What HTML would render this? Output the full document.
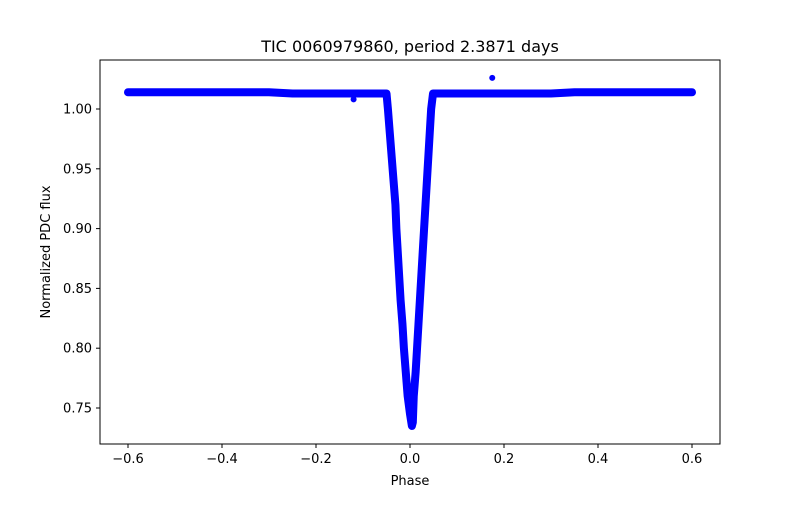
<!DOCTYPE html>
<html><head><meta charset="utf-8"><style>
body{margin:0;background:#fff;}
svg text{font-family:"DejaVu Sans","Liberation Sans",sans-serif;fill:#000;}
</style></head><body>
<svg id="chart" width="800" height="500" xmlns="http://www.w3.org/2000/svg">
<rect width="800" height="500" fill="#fff"/>
<text x="410" y="52" font-size="16" text-anchor="middle">TIC 0060979860, period 2.3871 days</text>
<g id="plot"></g>
<rect x="100" y="60" width="620" height="384" fill="none" stroke="#000" stroke-width="1"/>
<g id="axes"></g>
<text x="410" y="485" font-size="13" text-anchor="middle">Phase</text>
<text x="50" y="252" font-size="13" text-anchor="middle" transform="rotate(-90 50 252)">Normalized PDC flux</text>
</svg>
<script>
const phase = [-0.6,-0.55,-0.5,-0.45,-0.4,-0.35,-0.3,-0.25,-0.2,-0.15,-0.1,-0.05,
 -0.047,-0.043,-0.039,-0.035,-0.031,-0.029,-0.026,-0.023,-0.020,-0.016,-0.013,-0.009,-0.005,0.0,0.004,
 0.006,0.008,0.012,0.015,0.018,0.021,0.024,0.027,0.030,0.033,0.036,0.039,0.042,0.045,0.049,
 0.1,0.15,0.2,0.25,0.3,0.35,0.4,0.45,0.5,0.55,0.6];
const flux = [1.014,1.014,1.014,1.014,1.014,1.014,1.014,1.013,1.013,1.013,1.013,1.013,
 1.0,0.98,0.96,0.94,0.92,0.90,0.88,0.86,0.84,0.82,0.80,0.78,0.76,0.745,0.735,
 0.738,0.76,0.78,0.80,0.82,0.84,0.86,0.88,0.90,0.92,0.94,0.96,0.98,1.0,1.013,
 1.013,1.013,1.013,1.013,1.013,1.014,1.014,1.014,1.014,1.014,1.014];
const outPhase = [0.175,-0.12];
const outFlux = [1.026,1.008];
const xTicks = [-0.6,-0.4,-0.2,0.0,0.2,0.4,0.6];
const xTickLabels = ["−0.6","−0.4","−0.2","0.0","0.2","0.4","0.6"];
const yTicks = [0.75,0.80,0.85,0.90,0.95,1.00];
const yTickLabels = ["0.75","0.80","0.85","0.90","0.95","1.00"];

const X = v => 410 + v*470;
const Y = v => 109 + (1.0 - v)*1196;
const NS = "http://www.w3.org/2000/svg";
const plot = document.getElementById('plot');
const axes = document.getElementById('axes');

const pl = document.createElementNS(NS,'polyline');
pl.setAttribute('points', phase.map((p,i)=>X(p)+','+Y(flux[i])).join(' '));
pl.setAttribute('fill','none');pl.setAttribute('stroke','#0000ff');
pl.setAttribute('stroke-width','8');pl.setAttribute('stroke-linejoin','round');pl.setAttribute('stroke-linecap','round');


plot.appendChild(pl);
phase.forEach((p,i)=>{
  const c=document.createElementNS(NS,'circle');
  c.setAttribute('cx',X(p));c.setAttribute('cy',Y(flux[i]));c.setAttribute('r','3.5');c.setAttribute('fill','#0000ff');
  
  
  plot.appendChild(c);
});
outPhase.forEach((p,i)=>{
  const c=document.createElementNS(NS,'circle');
  c.setAttribute('cx',X(p));c.setAttribute('cy',Y(outFlux[i]));c.setAttribute('r','3');c.setAttribute('fill','#0000ff');
  
  
  plot.appendChild(c);
});
xTicks.forEach((t,i)=>{
  const l=document.createElementNS(NS,'line');
  l.setAttribute('x1',X(t));l.setAttribute('x2',X(t));l.setAttribute('y1',444);l.setAttribute('y2',448);l.setAttribute('stroke','#000');
  
  
  axes.appendChild(l);
  const tx=document.createElementNS(NS,'text');
  tx.setAttribute('x',X(t));tx.setAttribute('y',463);tx.setAttribute('font-size','13');tx.setAttribute('text-anchor','middle');
  tx.textContent=xTickLabels[i];
  
  
  axes.appendChild(tx);
});
yTicks.forEach((t,i)=>{
  const l=document.createElementNS(NS,'line');
  l.setAttribute('x1',96);l.setAttribute('x2',100);l.setAttribute('y1',Y(t));l.setAttribute('y2',Y(t));l.setAttribute('stroke','#000');
  
  
  axes.appendChild(l);
  const tx=document.createElementNS(NS,'text');
  tx.setAttribute('x',92);tx.setAttribute('y',Y(t)+4.5);tx.setAttribute('font-size','13');tx.setAttribute('text-anchor','end');
  tx.textContent=yTickLabels[i];
  
  
  axes.appendChild(tx);
});
</script>
</body></html>
